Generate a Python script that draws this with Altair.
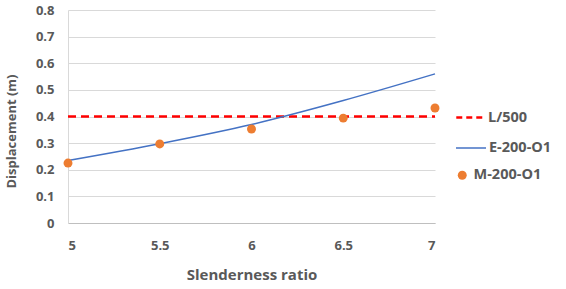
import altair as alt
import pandas as pd

x_vals = [5, 5.5, 6, 6.5, 7]
e_vals = [0.235, 0.298, 0.370, 0.460, 0.560]
m_vals = [0.225, 0.297, 0.353, 0.394, 0.432]
l_x = [5, 7]
l_vals = [0.4, 0.4]
y_ticks = [0, 0.1, 0.2, 0.3, 0.4, 0.5, 0.6, 0.7, 0.8]

FONT = "Open Sans"
GRAY = "#595959"

df_e = pd.DataFrame({"x": x_vals, "y": e_vals, "s": ["E-200-O1"] * len(x_vals)})
df_m = pd.DataFrame({"x": x_vals, "y": m_vals, "s": ["M-200-O1"] * len(x_vals)})
df_l = pd.DataFrame({"x": l_x, "y": l_vals, "s": ["L/500"] * len(l_x)})

xenc = alt.X("x:Q", scale=alt.Scale(domain=[5, 7], nice=False, zero=False),
             axis=alt.Axis(title="Slenderness ratio", values=x_vals, format="~g",
                           labelPadding=16, titlePadding=15, grid=False, ticks=False,
                           domainColor="#BFBFBF", titleFontSize=15))
yenc = alt.Y("y:Q", scale=alt.Scale(domain=[0, 0.8], nice=False),
             axis=alt.Axis(title="Displacement (m)", values=y_ticks, format="~g",
                           labelPadding=14, grid=True, ticks=False, domainColor="#D9D9D9",
                           titleX=-50, titleY=121, titleFontSize=13))

def leg(y, **kw):
    return alt.Legend(orient="none", legendX=387, legendY=y, title=None, padding=0,
                      labelFont=FONT, labelFontSize=14.5, labelFontWeight="bold",
                      labelColor=GRAY, **kw)

l_layer = alt.Chart(df_l).mark_line(strokeDash=[8, 5], strokeWidth=2.5).encode(
    x=xenc, y=yenc,
    color=alt.Color("s:N", scale=alt.Scale(domain=["L/500"], range=["#FF0000"]),
                    legend=leg(93, symbolType="stroke", symbolDash=[6, 4],
                               symbolStrokeWidth=2.5, symbolSize=700)))

e_layer = alt.Chart(df_e).mark_line(strokeWidth=1.5, interpolate="monotone").encode(
    x=xenc, y=yenc,
    color=alt.Color("s:N", scale=alt.Scale(domain=["E-200-O1"], range=["#4472C4"]),
                    legend=leg(122, symbolType="stroke", symbolStrokeWidth=1.5,
                               symbolSize=900, labelOffset=2)))

m_layer = alt.Chart(df_m).mark_point(filled=True, size=80, opacity=1).encode(
    x=xenc, y=yenc,
    color=alt.Color("s:N", scale=alt.Scale(domain=["M-200-O1"], range=["#ED7D31"]),
                    legend=leg(158, symbolType="circle", symbolSize=80,
                               symbolOpacity=1)))

chart = alt.layer(l_layer, e_layer, m_layer).resolve_scale(
    color="independent").resolve_legend(color="independent").properties(
    width=367, height=213,
    autosize=alt.AutoSizeParams(type="none"),
    padding={"left": 68, "top": 10, "right": 131, "bottom": 66},
).configure_view(stroke=None).configure_axis(
    labelFont=FONT, labelFontSize=13, labelFontWeight="bold", labelColor=GRAY,
    titleFont=FONT, titleFontWeight="bold", titleColor=GRAY,
    gridColor="#D9D9D9", gridWidth=1,
)

chart.save("out.html", embed_options={"renderer": "svg", "actions": False})
